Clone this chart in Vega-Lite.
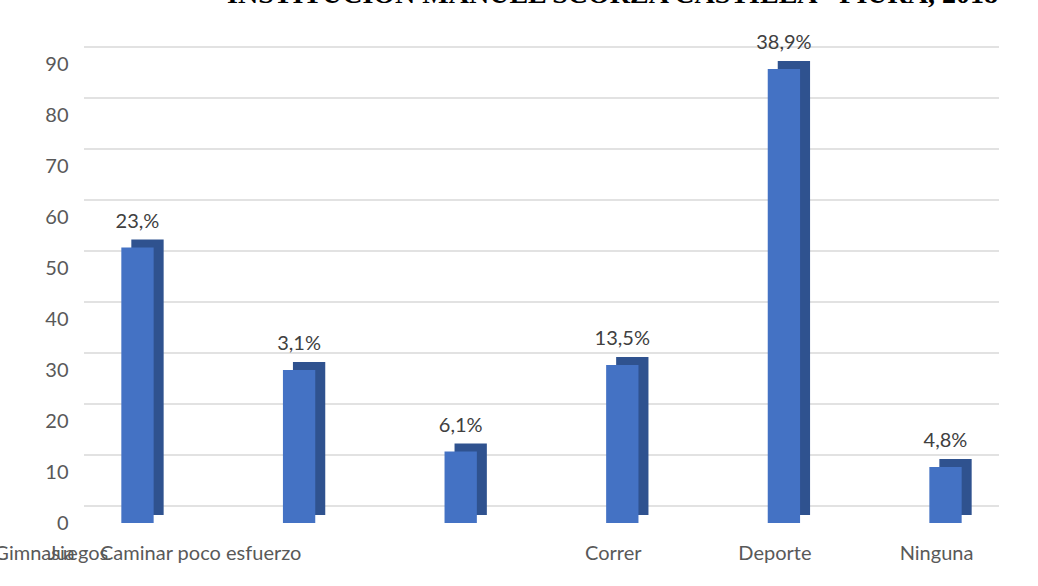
{
  "$schema": "https://vega.github.io/schema/vega-lite/v6.json",
  "autosize": {"type": "none"},
  "width": 915,
  "height": 459,
  "padding": {"left": 84, "top": 64, "right": 39, "bottom": 63},
  "background": "white",
  "title": {
    "text": "INSTITUCION MANUEL SCORZA CASTILLA - PIURA, 2018",
    "font": "Liberation Serif",
    "fontSize": 28,
    "fontWeight": "bold",
    "color": "#000000",
    "anchor": "middle",
    "baseline": "alphabetic",
    "orient": "top",
    "offset": 0,
    "dy": -2,
    "dx": 71
  },
  "datasets": {
    "bars": [
      {"cat": "Gimnasia", "v": 54, "lab": "23,%"},
      {"cat": "Juegos", "v": 30, "lab": "3,1%"},
      {"cat": "Caminar poco esfuerzo", "v": 14, "lab": "6,1%"},
      {"cat": "Correr", "v": 31, "lab": "13,5%"},
      {"cat": "Deporte", "v": 89, "lab": "38,9%"},
      {"cat": "Ninguna", "v": 11, "lab": "4,8%"}
    ],
    "grid": [
      {"g": 0}, {"g": 10}, {"g": 20}, {"g": 30}, {"g": 40},
      {"g": 50}, {"g": 60}, {"g": 70}, {"g": 80}, {"g": 90}
    ]
  },
  "config": {
    "view": {"stroke": null},
    "font": "Lato"
  },
  "layer": [
    {
      "data": {"name": "grid"},
      "mark": {"type": "rule", "color": "#D9D9D9", "strokeWidth": 1.5, "yOffset": -17},
      "encoding": {
        "y": {
          "field": "g", "type": "quantitative", "scale": {"domain": [0, 90]},
          "axis": {
            "title": null, "domain": false, "ticks": false, "grid": false,
            "values": [0, 10, 20, 30, 40, 50, 60, 70, 80, 90],
            "labelFont": "Lato", "labelFontSize": 20, "labelColor": "#595959",
            "labelPadding": 16
          }
        }
      }
    },
    {
      "data": {"name": "bars"},
      "encoding": {
        "x": {
          "field": "cat", "type": "nominal", "sort": null,
          "scale": {"paddingInner": 0.8, "paddingOuter": 0.231},
          "axis": {
            "title": null, "domain": false, "ticks": false,
            "labelFont": "Lato", "labelFontSize": 20, "labelColor": "#595959",
            "labelAngle": 0, "labelPadding": 20, "labelLimit": 400, "labelOverlap": false,
            "labelOffset": {
              "condition": [
                {"test": "datum.value == 'Gimnasia'", "value": -103},
                {"test": "datum.value == 'Juegos'", "value": -221},
                {"test": "datum.value == 'Caminar poco esfuerzo'", "value": -260}
              ],
              "value": -9
            }
          }
        },
        "y": {
          "field": "v", "type": "quantitative",
          "scale": {"domain": [0, 90]},
          "axis": {
            "title": null, "domain": false, "ticks": false, "grid": false,
            "values": [0, 10, 20, 30, 40, 50, 60, 70, 80, 90],
            "labelFont": "Lato", "labelFontSize": 20, "labelColor": "#595959",
            "labelPadding": 16
          }
        }
      },
      "layer": [
        {"mark": {"type": "bar", "color": "#2F528F", "xOffset": 10, "yOffset": -8}},
        {"mark": {"type": "bar", "color": "#4472C4"}},
        {
          "mark": {"type": "text", "fontSize": 20, "color": "#404040", "dy": -26, "dx": 0, "font": "Lato"},
          "encoding": {"text": {"field": "lab"}}
        }
      ]
    }
  ]
}
